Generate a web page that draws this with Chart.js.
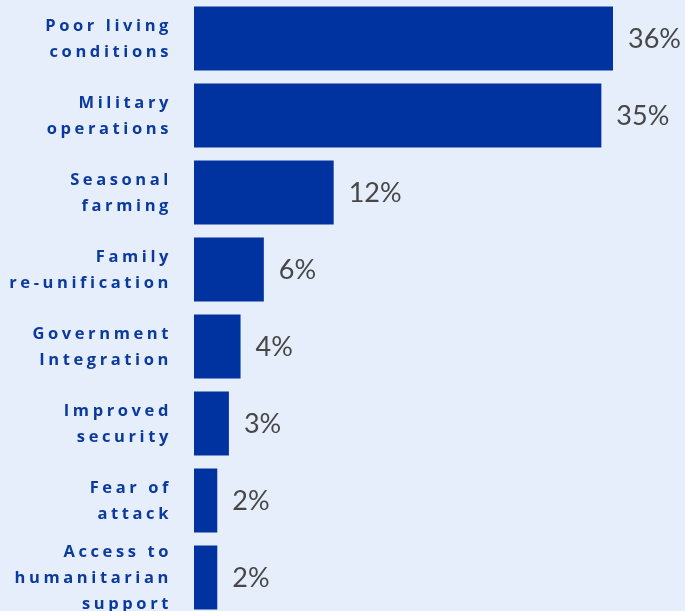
<!DOCTYPE html>
<html>
<head>
<meta charset="utf-8">
<script src="https://cdn.jsdelivr.net/npm/chart.js@4"></script>
<style>
  html, body { margin: 0; padding: 0; background: #e6eefb; overflow: hidden; }
  #wrap { position: absolute; left: 0; top: 0; }
</style>
</head>
<body>
<div id="wrap"><canvas id="reasonChart" width="685" height="616"></canvas></div>
<script>
const categories = [
  ['Poor living', 'conditions'],
  ['Military', 'operations'],
  ['Seasonal', 'farming'],
  ['Family', 're-unification'],
  ['Government', 'Integration'],
  ['Improved', 'security'],
  ['Fear of', 'attack'],
  ['Access to', 'humanitarian', 'support']
];
const shares = [36, 35, 12, 6, 4, 3, 2, 2];
const valueLabels = ['36%', '35%', '12%', '6%', '4%', '3%', '2%', '2%'];

// category labels, drawn with letter spacing
const categoryLabels = {
  id: 'categoryLabels',
  afterDraw(chart) {
    const ctx = chart.ctx;
    const y = chart.scales.y;
    ctx.save();
    ctx.font = 'bold 16.5px "Open Sans", "DejaVu Sans", sans-serif';
    ctx.fillStyle = '#0a3a9e';
    ctx.textAlign = 'right';
    ctx.textBaseline = 'middle';
    ctx.letterSpacing = '3.6px';
    categories.forEach((lines, i) => {
      const cy = y.getPixelForValue(i) + 1;
      const lh = 26;
      const start = cy - (lines.length - 1) * lh / 2;
      lines.forEach((t, j) => ctx.fillText(t, 172, start + j * lh));
    });
    ctx.restore();
  }
};

// percentage labels right of each bar
const barValues = {
  id: 'barValues',
  afterDatasetsDraw(chart) {
    const ctx = chart.ctx;
    const meta = chart.getDatasetMeta(0);
    ctx.save();
    ctx.font = '400 27px "Lato", "Open Sans", sans-serif';
    ctx.fillStyle = '#474747';
    ctx.textAlign = 'left';
    ctx.textBaseline = 'middle';
    meta.data.forEach((bar, i) => {
      ctx.fillText(valueLabels[i], bar.x + 15, bar.y + 1);
    });
    ctx.restore();
  }
};

new Chart(document.getElementById('reasonChart').getContext('2d'), {
  type: 'bar',
  data: {
    labels: categories,
    datasets: [{
      data: shares,
      backgroundColor: '#0033a0',
      borderWidth: 0,
      barPercentage: 0.83,
      categoryPercentage: 1
    }]
  },
  options: {
    indexAxis: 'y',
    responsive: false,
    animation: false,
    devicePixelRatio: 1,
    layout: { padding: { left: 194, right: 72, top: 0, bottom: 0 } },
    plugins: { legend: { display: false }, tooltip: { enabled: false } },
    scales: {
      x: { display: false, min: 0, max: 36 },
      y: { display: false }
    }
  },
  plugins: [categoryLabels, barValues]
});
</script>
</body>
</html>
